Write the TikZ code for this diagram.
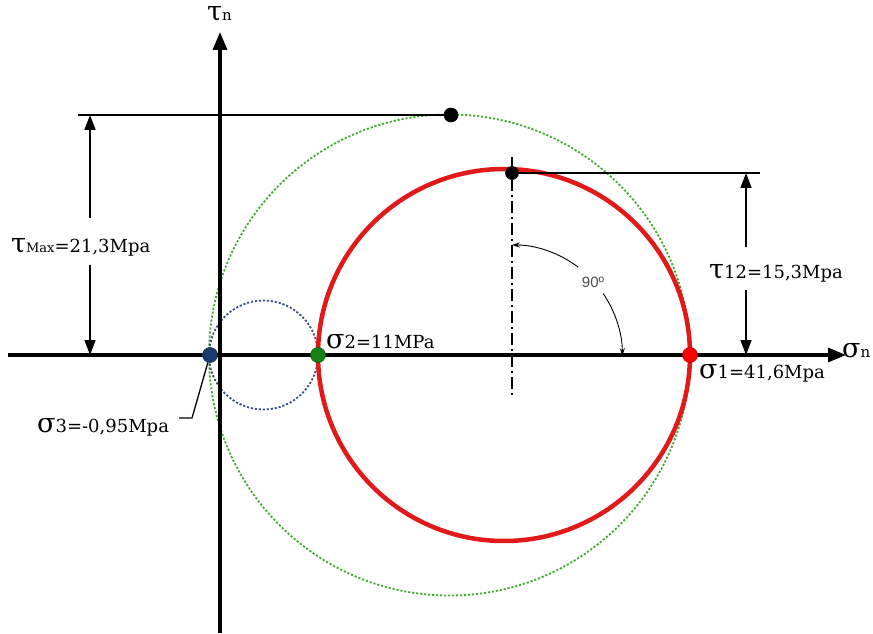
\documentclass[tikz,border=0pt]{standalone}
\usepackage{fontspec}
\setmainfont{DejaVu Serif}
\newfontfamily\anglefont{Liberation Sans}
\usepackage{tikz}
\usetikzlibrary{arrows.meta,positioning}
\definecolor{circred}{RGB}{225,25,25}
\definecolor{circgreen}{RGB}{70,170,50}
\definecolor{circblue}{RGB}{60,80,130}
\definecolor{dotblue}{RGB}{25,60,110}
\definecolor{dotgreen}{RGB}{20,130,20}
\tikzset{
  axisline/.style={line width=3.2pt,-{Triangle[length=18pt,width=14pt]}},
  dimline/.style={line width=1.6pt},
  dimarrow/.style={line width=1.6pt,-{Triangle[length=15pt,width=11pt]}},
  pointdot/.style={circle,draw=#1!70!black,fill=#1,line width=0.6pt,inner sep=0pt,minimum size=15pt},
  lbl/.style={inner sep=0pt,anchor=base west,font=\fontsize{18}{20}\selectfont},
  dotcircle/.style={line width=1.8pt,dash pattern=on 2.2pt off 1.8pt}
}
\newcommand{\bigsym}[1]{{\fontsize{27}{28}\selectfont #1}}

\begin{document}
\begin{tikzpicture}[x=1pt,y=1pt]
  \useasboundingbox (0,0) rectangle (873,633);
  % circles
  \draw[dotcircle,circgreen] (449.5,278) circle (240.5);
  \draw[dotcircle,circblue] (263.5,278) circle (54.5);
  \draw[circred,line width=4.5pt] (504,278) circle (186);
  % axes
  \coordinate (xstart) at (8,278);
  \coordinate (xend) at (846,278);
  \coordinate (ystart) at (220,0);
  \coordinate (yend) at (220,601);
  \draw[axisline] (xstart) -- (xend);
  \draw[axisline] (ystart) -- (yend);
  \node[lbl] (signlbl) at (842,276) {\bigsym{σ}{\fontsize{15}{16}\selectfont n}};
  \node[lbl] (taunlbl) at (207,612) {\bigsym{τ}{\fontsize{15}{16}\selectfont n}};
  % centre line and angle
  \coordinate (cltop) at (512,476);
  \coordinate (clbot) at (512,238);
  \coordinate (ang) at (512,278);
  \draw[line width=1.3pt,dash pattern=on 12pt off 4pt on 2pt off 4pt] (cltop) -- (clbot);
  \draw[line width=0.9pt,-{Stealth[length=8pt,width=5pt]}] ([shift={(53:110)}]ang) arc (53:90:110);
  \draw[line width=0.9pt,-{Stealth[length=8pt,width=5pt]}] ([shift={(34:110)}]ang) arc (34:0:112);
  \node[font=\anglefont\fontsize{15}{16}\selectfont,text=black!70] (anglbl) at (593,351) {90º};
  % points
  \node[pointdot=black,minimum size=14pt] (tmaxdot) at (451,518) {};
  \node[pointdot=black,minimum size=13pt] (t12dot) at (512,460) {};
  \node[pointdot=dotblue] (s3dot) at (210,278) {};
  \node[pointdot=dotgreen] (s2dot) at (318,278) {};
  \node[pointdot=red] (s1dot) at (690,278) {};
  % tau max dimension
  \coordinate (tmaxend) at (78,518);
  \coordinate (tmaxtop) at (90,518);
  \coordinate (tmaxgapa) at (90,415);
  \coordinate (tmaxgapb) at (90,368);
  \coordinate (tmaxbot) at (90,278);
  \draw[dimline] (tmaxend) -- (tmaxdot.center);
  \draw[dimarrow] (tmaxgapa) -- (tmaxtop);
  \draw[dimarrow] (tmaxgapb) -- (tmaxbot);
  \node[lbl] (tmaxlbl) at (11,380) {\bigsym{τ}{\fontsize{13}{14}\selectfont Max}=21,3Mpa};
  % tau 12 dimension
  \coordinate (t12end) at (760,460);
  \coordinate (t12top) at (746,460);
  \coordinate (t12gapa) at (746,386);
  \coordinate (t12gapb) at (746,343);
  \coordinate (t12bot) at (746,278);
  \draw[dimline] (t12dot.center) -- (t12end);
  \draw[dimarrow] (t12gapa) -- (t12top);
  \draw[dimarrow] (t12gapb) -- (t12bot);
  \node[lbl] (t12lbl) at (709,354) {\bigsym{τ}12=15,3Mpa};
  % principal stresses
  \node[lbl] (s1lbl) at (699,255) {\bigsym{σ}1=41,6Mpa};
  \node[lbl] (s2lbl) at (326,285) {\bigsym{σ}2=11MPa};
  \node[lbl] (s3lbl) at (37,201) {\bigsym{σ}3=-0,95Mpa};
  \coordinate (s3knee) at (192,215);
  \coordinate (s3end) at (179,215);
  \draw[line width=1.3pt] (s3dot) -- (s3knee) -- (s3end);
\end{tikzpicture}
\end{document}
